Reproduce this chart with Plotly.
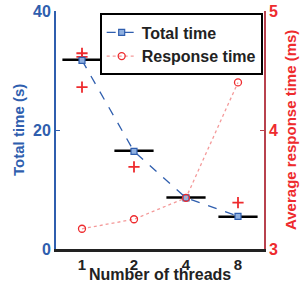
import plotly.graph_objects as go

threads = ["1", "2", "4", "8"]
total_time = [31.7, 16.4, 8.6, 5.5]
median_time = [31.8, 16.5, 8.65, 5.4]
outlier_threads = ["1", "1", "1", "2", "8"]
outlier_values = [32.9, 32.3, 27.2, 13.8, 7.8]
response_time = [3.17, 3.25, 3.43, 4.40]

BLUE = "#2F5EAE"
RED = "#EE2B2E"
FONT = "Liberation Sans"

fig = go.Figure()

fig.add_trace(go.Scatter(
    x=threads, y=median_time, mode="markers", showlegend=False,
    marker=dict(symbol="line-ew-open", size=28, color="black",
                line=dict(color="black", width=2.5)),
    hoverinfo="skip"))

fig.add_trace(go.Scatter(
    x=outlier_threads, y=outlier_values, mode="markers", showlegend=False,
    marker=dict(symbol="cross-thin-open", size=8, color=RED,
                line=dict(color=RED, width=1.8))))

fig.add_trace(go.Scatter(
    x=threads, y=total_time, mode="lines+markers", name="Total time",
    line=dict(color=BLUE, width=1.3, dash="dash"),
    marker=dict(symbol="square", size=6, color="#8FB0E0",
                line=dict(color=BLUE, width=1.2))))

fig.add_trace(go.Scatter(
    x=threads, y=response_time, mode="lines+markers", name="Response time",
    yaxis="y2",
    line=dict(color="#F49A9A", width=1.3, dash="dot"),
    marker=dict(symbol="circle-open", size=7, color=RED,
                line=dict(color=RED, width=1.3))))

fig.update_layout(
    width=300, height=283,
    margin=dict(l=56, r=36, t=11, b=34, autoexpand=False),
    paper_bgcolor="white", plot_bgcolor="white",
    font=dict(family=FONT, size=15, color="#222222", weight="bold"),
    showlegend=True,
    legend=dict(x=0.21, y=0.99, xanchor="left", yanchor="top",
                bordercolor="black", borderwidth=2, bgcolor="white",
                font=dict(family=FONT, size=16, color="#222222", weight="bold"),
                tracegroupgap=0, itemwidth=30),
    xaxis=dict(type="category", range=[-0.5, 3.5], showgrid=False,
               showline=True, linecolor="#222222", linewidth=2.5,
               ticks="", zeroline=False, automargin=False,
               tickfont=dict(family=FONT, size=15, color="#222222", weight="bold")),
    yaxis=dict(range=[0, 40], tickvals=[0, 20, 40], showgrid=False,
               zeroline=False, showline=True, linecolor=BLUE, linewidth=2,
               ticks="inside", ticklen=4, tickcolor=BLUE, automargin=False,
               tickfont=dict(family=FONT, size=16, color=BLUE, weight="bold")),
    yaxis2=dict(range=[3, 5], tickvals=[3, 4, 5], overlaying="y", side="right",
                showgrid=False, zeroline=False, showline=True,
                linecolor="#B8424E", linewidth=1.5, automargin=False,
                ticks="inside", ticklen=4, tickcolor="#B8424E",
                tickfont=dict(family=FONT, size=16, color=RED, weight="bold")),
    annotations=[
        dict(text="Total time (s)", xref="paper", yref="paper",
             x=-0.183, y=0.5, xanchor="center", yanchor="middle",
             textangle=-90, showarrow=False,
             font=dict(family=FONT, size=15, color=BLUE, weight="bold")),
        dict(text="Average response time (ms)", xref="paper", yref="paper",
             x=1.125, y=0.5, xanchor="center", yanchor="middle",
             textangle=-90, showarrow=False,
             font=dict(family=FONT, size=15, color=RED, weight="bold")),
        dict(text="Number of threads", xref="paper", yref="paper",
             x=0.5, y=-0.108, xanchor="center", yanchor="middle",
             showarrow=False,
             font=dict(family=FONT, size=16, color="#222222", weight="bold")),
    ],
)

fig.write_html(
    "out.html",
    config={"displayModeBar": False},
    post_script="document.body.style.margin='0';document.body.style.overflow='hidden';",
)
